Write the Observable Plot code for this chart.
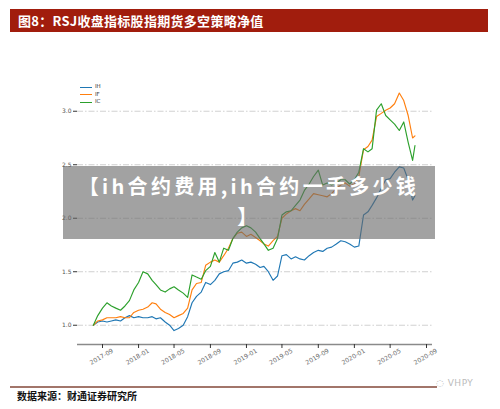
<!DOCTYPE html>
<html>
<head>
<meta charset="utf-8">
<script src="https://cdn.jsdelivr.net/npm/d3@7"></script>
<script src="https://cdn.jsdelivr.net/npm/@observablehq/plot@0.6"></script>
<style>
  html, body { margin:0; padding:0; background:#fff; }
  #page { position:relative; width:500px; height:409px; overflow:hidden; background:#fff; font-family:"Noto Sans CJK SC", "DejaVu Sans", sans-serif; }
  #titlebar { position:absolute; left:10px; top:9px; width:478px; height:23px; background:#a11d0d; color:#fff; font-weight:bold; font-size:13px; line-height:23px; padding-left:8px; box-sizing:border-box; letter-spacing:0.3px; }
  #chart { position:absolute; left:0; top:60px; }
  .leg { position:absolute; left:80px; font-size:5.5px; color:#333; font-family:"DejaVu Sans", sans-serif; }
  .leg span.ln { position:absolute; left:0; top:0; width:12px; height:1.4px; }
  .leg span.tx { position:absolute; left:15px; top:-3.5px; white-space:nowrap; }
  #overlay { position:absolute; left:63px; top:166px; width:372px; height:73px; background:rgba(105,105,105,0.62); }
  .ovl { position:absolute; left:63px; width:372px; height:29px; line-height:29px; color:#fff; font-weight:bold; font-size:20px; letter-spacing:3.3px; text-align:center; font-family:"Noto Sans CJK SC", sans-serif; white-space:nowrap; }
  #bottomline { position:absolute; left:10px; top:386px; width:427px; height:1.5px; background:#a2756a; }
  #source { position:absolute; left:17px; top:388px; font-size:10px; font-weight:bold; color:#111; font-family:"Noto Sans CJK SC", serif; }
  #wm { position:absolute; left:436px; top:378px; font-size:9px; color:#bbb; font-family:"DejaVu Sans", sans-serif; letter-spacing:0.5px; }
</style>
</head>
<body>
<div id="page">
  <div id="titlebar">图8：RSJ收盘指标股指期货多空策略净值</div>
  <div id="chart"></div>
  <div id="legend"></div>
  <div id="overlay"></div>
  <div class="ovl" style="top:171px">【ih合约费用,ih合约一手多少钱</div>
  <div class="ovl" style="top:200.5px">】</div>
  <div id="bottomline"></div>
  <div id="source">数据来源：财通证券研究所</div>
  <div id="wm">◌ VHPY</div>
</div>
<script>
const seriesNames = ["IH", "IF", "IC"];
const seriesColors = ["#1f77b4", "#ff7f0e", "#2ca02c"];

const dates = [
  "2017-08-01","2017-08-16","2017-09-01","2017-09-16","2017-10-01","2017-10-16","2017-11-01","2017-11-16","2017-12-01","2017-12-16",
  "2018-01-01","2018-01-16","2018-02-01","2018-02-16","2018-03-01","2018-03-16","2018-04-01","2018-04-16","2018-05-01","2018-05-16",
  "2018-06-01","2018-06-16","2018-07-01","2018-07-16","2018-08-01","2018-08-16","2018-09-01","2018-09-16","2018-10-01","2018-10-16",
  "2018-11-01","2018-11-16","2018-12-01","2018-12-16","2019-01-01","2019-01-16","2019-02-01","2019-02-16","2019-03-01","2019-03-16",
  "2019-04-01","2019-04-16","2019-05-01","2019-05-16","2019-06-01","2019-06-16","2019-07-01","2019-07-16","2019-08-01","2019-08-16",
  "2019-09-01","2019-09-16","2019-10-01","2019-10-16","2019-11-01","2019-11-16","2019-12-01","2019-12-16","2020-01-01","2020-01-16",
  "2020-02-01","2020-02-16","2020-03-01","2020-03-16","2020-04-01","2020-04-16","2020-05-01","2020-05-16","2020-06-01","2020-06-16",
  "2020-07-01","2020-07-16","2020-07-24"
];

const ihValues = [
  1.00,1.03,1.04,1.03,1.04,1.05,1.04,1.07,1.09,1.07,
  1.08,1.07,1.07,1.08,1.06,1.07,1.03,1.00,0.95,0.97,
  1.00,1.08,1.21,1.27,1.31,1.40,1.38,1.42,1.48,1.50,
  1.51,1.58,1.59,1.61,1.58,1.59,1.57,1.54,1.55,1.50,
  1.42,1.46,1.65,1.66,1.62,1.64,1.62,1.61,1.65,1.68,
  1.70,1.69,1.72,1.73,1.76,1.79,1.78,1.76,1.73,1.74,
  2.03,2.06,2.12,2.19,2.28,2.36,2.37,2.43,2.48,2.47,
  2.36,2.17,2.21
];

const ifValues = [
  1.00,1.04,1.05,1.07,1.07,1.07,1.08,1.07,1.07,1.12,
  1.14,1.15,1.17,1.21,1.20,1.15,1.12,1.10,1.07,1.09,
  1.11,1.16,1.33,1.39,1.40,1.56,1.59,1.61,1.59,1.65,
  1.72,1.81,1.86,1.87,1.83,1.85,1.82,1.79,1.76,1.74,
  1.79,1.83,2.00,2.04,2.07,2.09,2.07,2.13,2.18,2.23,
  2.22,2.21,2.20,2.23,2.28,2.31,2.33,2.30,2.32,2.39,
  2.64,2.67,2.73,2.95,2.98,3.01,3.03,3.07,3.17,3.10,
  2.96,2.75,2.77
];

const icValues = [
  1.00,1.09,1.16,1.21,1.18,1.16,1.14,1.18,1.23,1.33,
  1.40,1.50,1.48,1.42,1.38,1.33,1.31,1.34,1.36,1.33,
  1.30,1.26,1.47,1.45,1.43,1.51,1.55,1.68,1.59,1.72,
  1.70,1.81,1.87,1.91,1.93,1.91,1.87,1.81,1.76,1.70,
  1.72,1.81,2.03,2.06,2.07,2.12,2.17,2.26,2.32,2.39,
  2.45,2.31,2.33,2.31,2.33,2.36,2.36,2.32,2.36,2.43,
  2.65,2.62,2.65,3.01,3.07,2.96,2.92,2.88,2.82,2.90,
  2.71,2.54,2.68
];

const yTicks = [1.0, 1.5, 2.0, 2.5, 3.0];
const yTickLabels = ["1.0", "1.5", "2.0", "2.5", "3.0"];
const xTickLabels = ["2017-09","2018-01","2018-05","2018-09","2019-01","2019-05","2019-09","2020-01","2020-05","2020-09"];

const valueSets = [ihValues, ifValues, icValues];
const rows = [];
valueSets.forEach((vals, s) => {
  vals.forEach((v, i) => rows.push({date: new Date(dates[i] + "T00:00:00Z"), value: v, series: seriesNames[s]}));
});
const xTicks = xTickLabels.map(l => new Date(l + "-01T00:00:00Z"));

const chart = Plot.plot({
  width: 500,
  height: 320,
  marginLeft: 77,
  marginRight: 68,
  marginTop: 10,
  marginBottom: 36,
  style: {fontFamily: "DejaVu Sans, sans-serif", background: "transparent", overflow: "visible"},
  x: {type: "utc", domain: [xTicks[0], xTicks[xTicks.length - 1]], range: [102, 426]},
  y: {domain: [0.82, 3.3], range: [284, 18.64]},
  color: {domain: seriesNames, range: seriesColors},
  marks: [
    Plot.ruleY(yTicks, {stroke: "#c4c4c4", strokeWidth: 0.8, strokeDasharray: "6,2,1.5,2"}),
    Plot.axisY(yTicks, {tickSize: 4, tickPadding: 2, fontSize: 6, stroke: "#333", fill: "#555",
      tickFormat: d => yTickLabels[yTicks.indexOf(d)], label: null}),
    Plot.line(rows, {x: "date", y: "value", z: "series", stroke: "series", strokeWidth: 1.15}),
    Plot.ruleY([0.82], {stroke: "#8a8a8a", strokeWidth: 1.6}),
    Plot.axisX(xTicks, {tickSize: 4, stroke: "#333", tickFormat: () => "", label: null}),
    Plot.text(xTicks, {x: d => d, frameAnchor: "bottom", dy: 14, rotate: -30,
      text: (d, i) => xTickLabels[i], fontSize: 6.2, fill: "#6a6a6a"})
  ]
});
document.getElementById("chart").appendChild(chart);

const legend = document.getElementById("legend");
const legendTops = [86.5, 94, 101.5];
seriesNames.forEach((name, i) => {
  const d = document.createElement("div");
  d.className = "leg";
  d.style.top = legendTops[i] + "px";
  d.innerHTML = `<span class="ln" style="background:${seriesColors[i]}"></span><span class="tx">${name}</span>`;
  legend.appendChild(d);
});
</script>
</body>
</html>
